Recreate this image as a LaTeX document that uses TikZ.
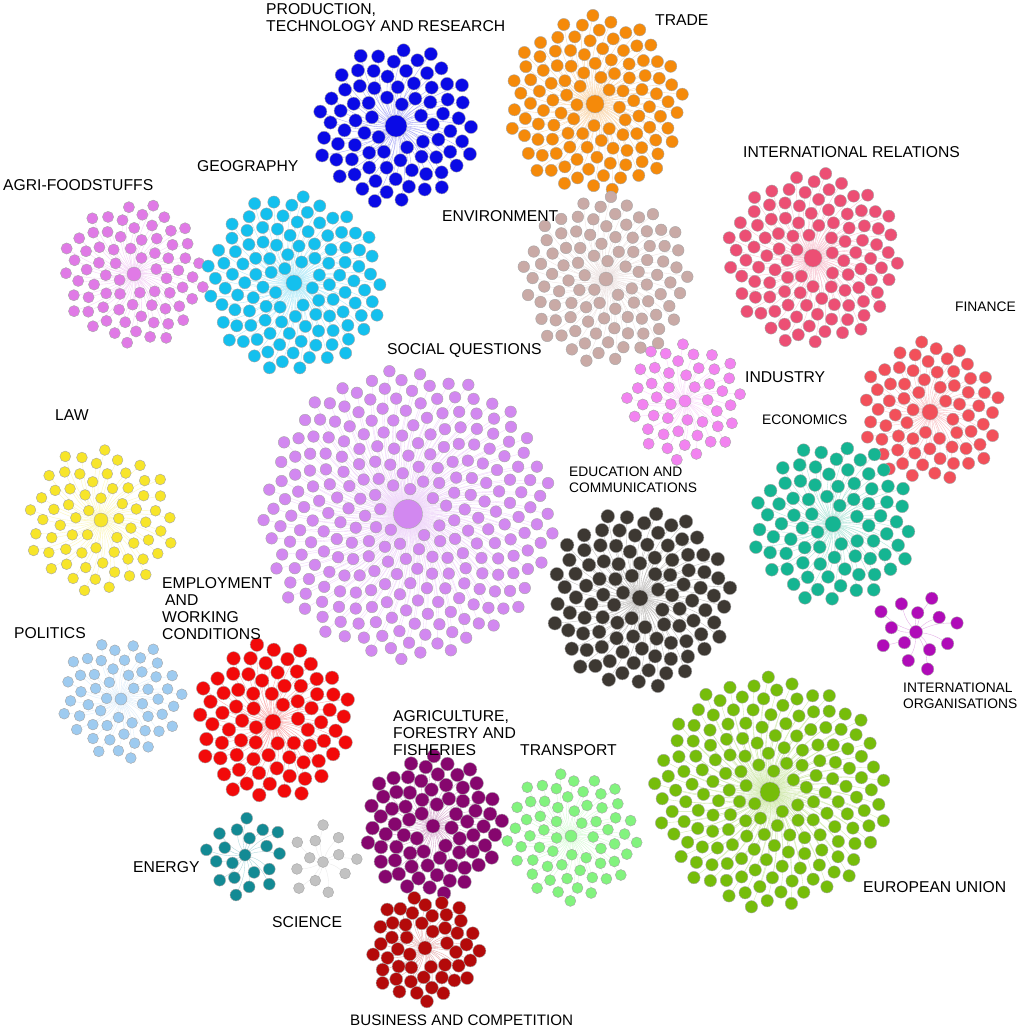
\documentclass[tikz,border=0pt]{standalone}
\usepackage{fontspec}
\setmainfont{Liberation Sans}
\usetikzlibrary{backgrounds}
\definecolor{cprod}{HTML}{0A0AE6}
\definecolor{ctrade}{HTML}{F58A0A}
\definecolor{cintrel}{HTML}{EC4F74}
\definecolor{cagrifood}{HTML}{E07AE6}
\definecolor{cgeo}{HTML}{14C0EE}
\definecolor{cenv}{HTML}{C9AAA6}
\definecolor{cfin}{HTML}{F2505A}
\definecolor{cind}{HTML}{F283F0}
\definecolor{csoc}{HTML}{D288F0}
\definecolor{claw}{HTML}{F7E52A}
\definecolor{cecon}{HTML}{15B592}
\definecolor{cedu}{HTML}{3D3832}
\definecolor{cintorg}{HTML}{B00BB8}
\definecolor{cpol}{HTML}{9ECBF0}
\definecolor{cemp}{HTML}{F20A0A}
\definecolor{ceu}{HTML}{76BD0A}
\definecolor{cagri}{HTML}{86066E}
\definecolor{ctrans}{HTML}{82F37E}
\definecolor{cenergy}{HTML}{138A94}
\definecolor{csci}{HTML}{C2C2C2}
\definecolor{cbus}{HTML}{B40A0A}
\tikzset{
  dot/.style={circle, draw=black!35, line width=0.4pt, inner sep=0pt},
  edge/.style={line width=0.35pt},
  lab/.style={anchor=north west, inner sep=0pt, align=left, text=black,
              font=\fontsize{15.7}{17}\selectfont},
  smalllab/.style={lab, font=\fontsize{13.8}{15.5}\selectfont}
}
% name, cx, cy, R, N, node radius, hub radius, colour, rotation
\newcommand\clusterdraw[9]{%
  \node[dot, fill=#8, minimum size={2*#7pt}] (#1-0) at (#2,#3) {};
  \pgfmathsetmacro\qz{(#7+#6+3)/#4}
  \foreach \i in {1,...,#5}{
    \pgfmathsetmacro\rr{#4*sqrt(\qz*\qz+(1-\qz*\qz)*(\i-1)/(#5-1))}
    \pgfmathsetmacro\ff{\i*0.381966}
    \pgfmathsetmacro\aa{360*(\ff-floor(\ff))+#9}
    \pgfmathsetmacro\px{#2+\rr*cos(\aa)}
    \pgfmathsetmacro\py{#3+\rr*sin(\aa)}
    \node[dot, fill=#8, minimum size={2*#6pt}] (#1-\i) at (\px,\py) {};
  }
  \begin{pgfonlayer}{background}
    \foreach \i in {1,...,#5}{
      \draw[edge, draw=#8!35] (#1-0) to[bend left=12] (#1-\i);
    }
  \end{pgfonlayer}
}
\begin{document}
\begin{tikzpicture}[x=1pt,y=-1pt]
\useasboundingbox (0,0) rectangle (1020,1029);
\begin{pgfonlayer}{background}
  \fill[white] (0,0) rectangle (1020,1029);
\end{pgfonlayer}
\clusterdraw{prod}{396}{126}{80}{78}{6.6}{11}{cprod}{10}
\clusterdraw{trade}{595}{104}{89}{110}{6.1}{9}{ctrade}{40}
\clusterdraw{intrel}{813}{258}{87}{105}{6.1}{9}{cintrel}{70}
\clusterdraw{agrifood}{134}{274}{72}{72}{5.6}{7}{cagrifood}{20}
\clusterdraw{geo}{294}{283}{89}{112}{6.1}{8}{cgeo}{100}
\clusterdraw{env}{606}{279}{84}{95}{5.8}{7}{cenv}{0}
\clusterdraw{fin}{930}{412}{71}{68}{6.1}{8}{cfin}{50}
\clusterdraw{ind}{685}{401}{60}{46}{5.6}{6}{cind}{30}
\clusterdraw{soc}{408}{514}{146}{255}{5.8}{14.5}{csoc}{0}
\clusterdraw{law}{101}{520}{74}{66}{5.4}{7}{claw}{80}
\clusterdraw{econ}{833}{524}{81}{78}{6.4}{8}{cecon}{15}
\clusterdraw{edu}{640}{598}{91}{100}{6.8}{8}{cedu}{60}
\clusterdraw{intorg}{916}{632}{42}{13}{6.2}{6.5}{cintorg}{0}
\clusterdraw{pol}{121}{699}{61}{52}{5.4}{6}{cpol}{45}
\clusterdraw{emp}{273}{722}{79}{75}{6.8}{8}{cemp}{25}
\clusterdraw{eu}{770}{792}{117}{165}{6.2}{10}{ceu}{5}
\clusterdraw{agri}{433}{826}{70}{72}{6.8}{7}{cagri}{90}
\clusterdraw{trans}{571}{836}{66}{60}{5.5}{6}{ctrans}{35}
\clusterdraw{energy}{245}{855}{41}{19}{5.9}{6}{cenergy}{10}
\clusterdraw{sci}{323}{862}{37}{12}{5.4}{5.5}{csci}{60}
\clusterdraw{bus}{425}{948}{55}{48}{6.5}{7}{cbus}{20}
% labels
\node[lab] (lprod) at (266,3) {PRODUCTION,\\TECHNOLOGY AND RESEARCH};
\node[lab] (ltrade) at (655,14) {TRADE};
\node[lab] (lintrel) at (743,146) {INTERNATIONAL RELATIONS};
\node[lab] (lgeo) at (197,160) {GEOGRAPHY};
\node[lab] (lagrifood) at (3,179) {AGRI-FOODSTUFFS};
\node[lab] (lenv) at (442,210) {ENVIRONMENT};
\node[smalllab] (lfin) at (955,302) {FINANCE};
\node[lab] (lsoc) at (387,343) {SOCIAL QUESTIONS};
\node[lab] (lind) at (745,371) {INDUSTRY};
\node[smalllab] (lecon) at (762,415) {ECONOMICS};
\node[smalllab] (ledu) at (569,467) {EDUCATION AND\\COMMUNICATIONS};
\node[lab] (llaw) at (55,409) {LAW};
\node[lab] (lemp) at (162,577) {EMPLOYMENT\\\hspace*{3pt}AND\\WORKING\\CONDITIONS};
\node[lab] (lpol) at (14,627) {POLITICS};
\node[smalllab] (lintorg) at (903,683) {INTERNATIONAL\\ORGANISATIONS};
\node[lab] (lagri) at (393,710) {AGRICULTURE,\\FORESTRY AND\\FISHERIES};
\node[lab] (ltrans) at (520,744) {TRANSPORT};
\node[lab] (leu) at (863,881) {EUROPEAN UNION};
\node[lab] (lenergy) at (133,861) {ENERGY};
\node[lab] (lsci) at (272,916) {SCIENCE};
\node[lab, font=\fontsize{15.2}{17}\selectfont] (lbus) at (350,1015) {BUSINESS AND COMPETITION};
\end{tikzpicture}
\end{document}
